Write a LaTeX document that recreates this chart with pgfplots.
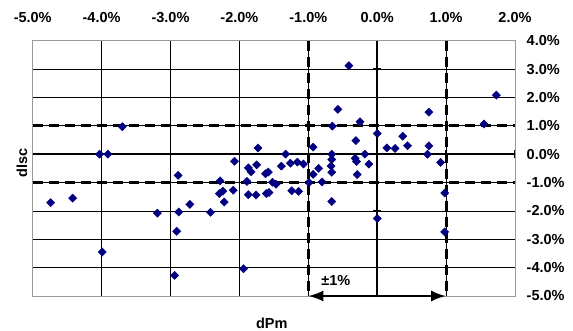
\documentclass[border=0pt]{standalone}
\usepackage{pgfplots}
\pgfplotsset{compat=1.18}
\usepackage{fontspec}
\setmainfont{Liberation Sans}
\usetikzlibrary{arrows.meta}
\definecolor{marknavy}{RGB}{0,0,128}
\begin{document}
\begin{tikzpicture}
\path[use as bounding box] (-32.7pt,-35pt) rectangle (540.3pt,296pt);
% zero axes with cross ticks (behind)
\begin{axis}[
  at={(0pt,0pt)}, anchor=south west,
  scale only axis, width=482.3pt, height=255.3pt,
  xmin=-5, xmax=2, ymin=-5, ymax=4,
  axis lines=middle,
  axis line style={-, line width=1.8pt, black},
  xtick={-5,-4,...,2}, ytick={-5,-4,...,4},
  xticklabels={}, yticklabels={},
  major tick length=8pt, tick align=center,
  tick style={line width=1.4pt, black},
  hide obscured x ticks=false, hide obscured y ticks=false,
]
\end{axis}
\begin{axis}[
  at={(0pt,0pt)}, anchor=south west,
  scale only axis, width=482.3pt, height=255.3pt,
  xmin=-5, xmax=2, ymin=-5, ymax=4,
  clip=false,
  axis line style={draw=gray!80, line width=0.9pt},
  grid=major, grid style={black, line width=0.7pt},
  major tick length=0pt,
  xtick={-5,-4,...,2}, ytick={-5,-4,...,4},
  xticklabels={-5.0\%,-4.0\%,-3.0\%,-2.0\%,-1.0\%,0.0\%,1.0\%,2.0\%},
  yticklabels={-5.0\%,-4.0\%,-3.0\%,-2.0\%,-1.0\%,0.0\%,1.0\%,2.0\%,3.0\%,4.0\%},
  xticklabel pos=top, yticklabel pos=right,
  tick label style={font=\fontsize{14.5}{16}\selectfont\bfseries},
  xticklabel style={anchor=base, yshift=18pt},
  yticklabel style={anchor=west, inner sep=0pt, xshift=11.5pt},
]
% dashed +-1% lines
\addplot[black, line width=2.9pt, dash pattern=on 10pt off 6pt] coordinates {(-5,1) (2,1)};
\addplot[black, line width=2.9pt, dash pattern=on 10pt off 6pt] coordinates {(-5,-1) (2,-1)};
\addplot[black, line width=2.9pt, dash pattern=on 10pt off 6pt] coordinates {(-1,4) (-1,-5)};
\addplot[black, line width=2.9pt, dash pattern=on 10pt off 6pt] coordinates {(1,4) (1,-5)};
% arrow
\addplot[black, line width=2.4pt, {Latex[length=15pt,width=11pt]}-{Latex[length=15pt,width=11pt]}] coordinates {(-1,-5) (1,-5)};
% data
\addplot[only marks, mark=square*, mark size=2.9pt, mark options={rotate=45, draw=marknavy, fill=marknavy}] table {
x y
-4.74 -1.71
-4.42 -1.55
-4.03 0.00
-3.91 0.00
-3.70 0.97
-3.99 -3.45
-3.19 -2.08
-2.89 -0.75
-2.88 -2.04
-2.72 -1.77
-2.91 -2.72
-2.94 -4.27
-2.42 -2.05
-2.29 -1.39
-2.24 -1.30
-2.22 -1.69
-2.28 -0.94
-2.09 -1.27
-2.07 -0.25
-1.94 -4.04
-1.87 -0.48
-1.83 -0.62
-1.75 -0.38
-1.73 0.22
-1.89 -0.96
-1.87 -1.43
-1.76 -1.44
-1.62 -0.69
-1.58 -0.63
-1.61 -1.39
-1.57 -1.35
-1.52 -0.99
-1.47 -1.06
-1.39 -0.42
-1.33 0.00
-1.26 -0.32
-1.16 -0.28
-1.07 -0.35
-1.24 -1.29
-1.14 -1.31
-0.99 -1.00
-0.93 -0.71
-0.85 -0.50
-0.93 0.25
-0.80 -0.98
-0.66 -1.67
-0.66 0.00
-0.66 -0.19
-0.67 -0.42
-0.66 -0.64
-0.65 0.99
-0.57 1.58
-0.41 3.12
-0.25 1.14
-0.31 0.48
-0.32 -0.15
-0.30 -0.26
-0.29 -0.72
-0.18 0.00
-0.12 -0.35
0.00 0.73
0.00 -2.27
0.14 0.22
0.26 0.20
0.37 0.63
0.44 0.30
0.75 1.48
0.75 0.29
0.73 0.00
0.92 -0.29
0.98 -1.37
0.98 -2.74
1.55 1.06
1.73 2.08
};
\node[font=\fontsize{14.5}{16}\selectfont\bfseries] at (axis cs:-0.6,-4.46) {±1\%};
\node[font=\fontsize{14.5}{16}\selectfont\bfseries, rotate=90, inner sep=0pt] at (axis cs:-5.155,-0.31) {dlsc};
\node[font=\fontsize{14.5}{16}\selectfont\bfseries, inner sep=0pt] at (axis cs:-1.53,-5) [yshift=-27pt] {dPm};
\end{axis}
\end{tikzpicture}
\end{document}
